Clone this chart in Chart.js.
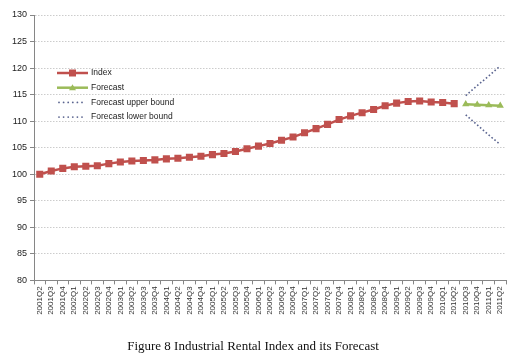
<!DOCTYPE html>
<html lang="en">
<head>
    <title>Industrial Rental Index</title>
    <script src="https://cdn.jsdelivr.net/npm/chart.js@4.4.0/dist/chart.umd.min.js"></script>
    <style>
    body {
        margin: 0;
        background-color: #fff;
    }

    .chart-container {
        position: relative;
        width: 520px;
        height: 362px;
    }
</style>
</head>
<body>
    <div class="chart-container">
        <canvas id="rentChart"></canvas>
    </div>

    <script>
        // Quarters on the x axis
        const quarters = [
            '2001Q2', '2001Q3', '2001Q4', '2002Q1', '2002Q2', '2002Q3', '2002Q4',
            '2003Q1', '2003Q2', '2003Q3', '2003Q4', '2004Q1', '2004Q2', '2004Q3', '2004Q4',
            '2005Q1', '2005Q2', '2005Q3', '2005Q4', '2006Q1', '2006Q2', '2006Q3', '2006Q4',
            '2007Q1', '2007Q2', '2007Q3', '2007Q4', '2008Q1', '2008Q2', '2008Q3', '2008Q4',
            '2009Q1', '2009Q2', '2009Q3', '2009Q4', '2010Q1', '2010Q2', '2010Q3', '2010Q4',
            '2011Q1', '2011Q2'
        ];

        // Observed index, 2001Q2 - 2010Q2
        const indexValues = [
            100.0, 100.6, 101.1, 101.4, 101.5, 101.6, 102.0,
            102.3, 102.5, 102.6, 102.7, 102.9, 103.0, 103.2, 103.4,
            103.7, 103.9, 104.3, 104.8, 105.3, 105.8, 106.4, 107.0,
            107.8, 108.6, 109.4, 110.3, 111.0, 111.6, 112.2, 112.9,
            113.4, 113.7, 113.8, 113.6, 113.5, 113.3
        ];

        // Forecast, 2010Q3 - 2011Q2
        const forecastValues = [113.2, 113.1, 113.0, 112.9];
        const upperBound = [114.8, 116.7, 118.5, 120.4];
        const lowerBound = [111.2, 109.3, 107.4, 105.6];

        const yTicks = { min: 80, max: 130, step: 5 };

        // pad the series so they line up with the quarters
        const gap = quarters.length - forecastValues.length;
        const padEnd = arr => arr.concat(Array(quarters.length - arr.length).fill(null));
        const padStart = arr => Array(gap).fill(null).concat(arr);

        const red = '#c0504d';
        const green = '#9bbb59';
        const dotColor = '#5b6590';

        // legend drawn inside the plot, like the Excel original
        const insideLegend = {
            id: 'insideLegend',
            afterDraw(chart) {
                const ctx = chart.ctx;
                const x0 = 57, y0 = 73, rowH = 14.7;
                ctx.save();
                ctx.font = '8.5px "Liberation Sans", Arial, sans-serif';
                ctx.textBaseline = 'middle';
                chart.data.datasets.forEach((ds, i) => {
                    const y = y0 + i * rowH;
                    if (ds.borderDash && ds.borderDash.length) {
                        ctx.fillStyle = ds.borderColor;
                        for (let k = 0; k < 6; k++) {
                            ctx.beginPath();
                            ctx.arc(x0 + 2 + k * 4.6, y, 0.9, 0, Math.PI * 2);
                            ctx.fill();
                        }
                    } else {
                        ctx.strokeStyle = ds.borderColor;
                        ctx.lineWidth = 2.5;
                        ctx.beginPath();
                        ctx.moveTo(x0, y);
                        ctx.lineTo(x0 + 31, y);
                        ctx.stroke();
                        ctx.fillStyle = ds.borderColor;
                        const cx = x0 + 15.5;
                        if (ds.pointStyle === 'rect') {
                            ctx.fillRect(cx - 3.5, y - 3.5, 7, 7);
                        } else {
                            ctx.beginPath();
                            ctx.moveTo(cx, y - 3.5);
                            ctx.lineTo(cx + 3.5, y + 2.5);
                            ctx.lineTo(cx - 3.5, y + 2.5);
                            ctx.closePath();
                            ctx.fill();
                        }
                    }
                    ctx.fillStyle = '#222';
                    ctx.fillText(ds.label, x0 + 34, y);
                });
                ctx.restore();
            }
        };

        const ctx = document.getElementById('rentChart').getContext('2d');
        const rentChart = new Chart(ctx, {
            type: 'line',
            data: {
                labels: quarters,
                datasets: [{
                    label: 'Index',
                    data: padEnd(indexValues),
                    borderColor: red,
                    backgroundColor: red,
                    borderWidth: 2.5,
                    pointStyle: 'rect',
                    pointRadius: 5,
                    pointBorderWidth: 0,
                    tension: 0
                }, {
                    label: 'Forecast',
                    data: padStart(forecastValues),
                    borderColor: green,
                    backgroundColor: green,
                    borderWidth: 2.5,
                    pointStyle: 'triangle',
                    pointRadius: 4.2,
                    pointBorderWidth: 0,
                    tension: 0
                }, {
                    label: 'Forecast upper bound',
                    data: padStart(upperBound),
                    borderColor: dotColor,
                    borderWidth: 1.6,
                    borderDash: [1.6, 2.2],
                    pointRadius: 0,
                    tension: 0
                }, {
                    label: 'Forecast lower bound',
                    data: padStart(lowerBound),
                    borderColor: dotColor,
                    borderWidth: 1.6,
                    borderDash: [1.6, 2.2],
                    pointRadius: 0,
                    tension: 0
                }]
            },
            options: {
                responsive: true,
                maintainAspectRatio: false,
                animation: false,
                layout: {
                    padding: { top: 15, right: 14, left: 0, bottom: 0 }
                },
                plugins: {
                    legend: { display: false },
                    tooltip: { enabled: false },
                    title: {
                        display: true,
                        position: 'bottom',
                        text: 'Figure 8 Industrial Rental Index and its Forecast',
                        color: '#111',
                        font: { family: '"Liberation Serif", "Times New Roman", serif', size: 13, weight: 'normal' },
                        padding: { top: 0, bottom: 8 }
                    }
                },
                scales: {
                    x: {
                        offset: true,
                        grid: {
                            offset: true,
                            drawOnChartArea: false,
                            drawTicks: true,
                            tickLength: 4,
                            tickColor: '#868686'
                        },
                        border: { color: '#868686', width: 1 },
                        ticks: {
                            autoSkip: false,
                            minRotation: 90,
                            maxRotation: 90,
                            padding: 2,
                            color: '#333',
                            font: { family: '"Liberation Sans", Arial, sans-serif', size: 8 }
                        },
                        afterFit(scale) { scale.height = 58; }
                    },
                    y: {
                        min: yTicks.min,
                        max: yTicks.max,
                        grid: {
                            color: '#cccccc',
                            tickLength: 4,
                            tickColor: '#868686'
                        },
                        border: { color: '#868686', width: 1, dash: [1.5, 1.5] },
                        ticks: {
                            stepSize: yTicks.step,
                            padding: 3,
                            color: '#222',
                            font: { family: '"Liberation Sans", Arial, sans-serif', size: 9 }
                        },
                        afterFit(scale) { scale.width = 34; }
                    }
                }
            },
            plugins: [insideLegend]
        });
    </script>
</body>
</html>
